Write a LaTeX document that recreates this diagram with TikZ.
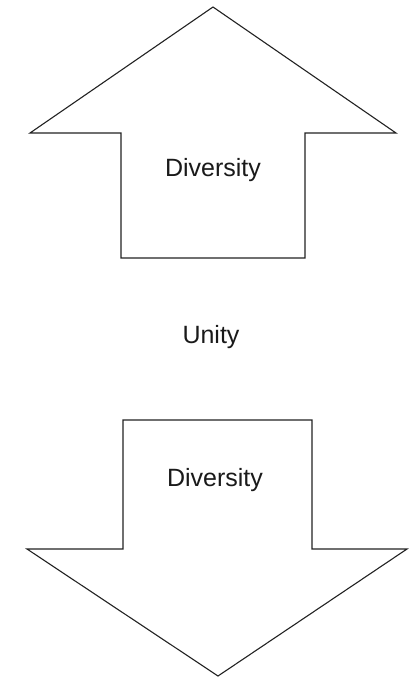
\documentclass[tikz,border=0pt]{standalone}
\usepackage{fontspec}
\setmainfont{Liberation Sans}
\usepackage{tikz}
\definecolor{ink}{HTML}{1A1A1A}
\definecolor{edge}{HTML}{222222}
\tikzset{
  bigarrow/.style = {draw=edge, line width=1.1pt, line join=miter, fill=white},
  word/.style     = {font=\fontsize{25}{30}\selectfont, text=ink, inner sep=0pt},
}

\begin{document}
\begin{tikzpicture}[x=1pt,y=-1pt]
\useasboundingbox (0,0) rectangle (415,680);

% ------------------------------------------------------------------ upper arrow
\draw[bigarrow] (213,7) -- (396,133) -- (305,133) -- (305,258)
  -- (121,258) -- (121,133) -- (30,133) -- cycle;
\node[word] (divup) at (213,170) {Diversity};

% ------------------------------------------------------------------ middle
\node[word] (unity) at (211,337) {Unity};

% ------------------------------------------------------------------ lower arrow
\draw[bigarrow] (123,420) -- (312,420) -- (312,549) -- (407,549)
  -- (218,676) -- (27,549) -- (123,549) -- cycle;
\node[word] (divdown) at (215,480) {Diversity};

\end{tikzpicture}
\end{document}
